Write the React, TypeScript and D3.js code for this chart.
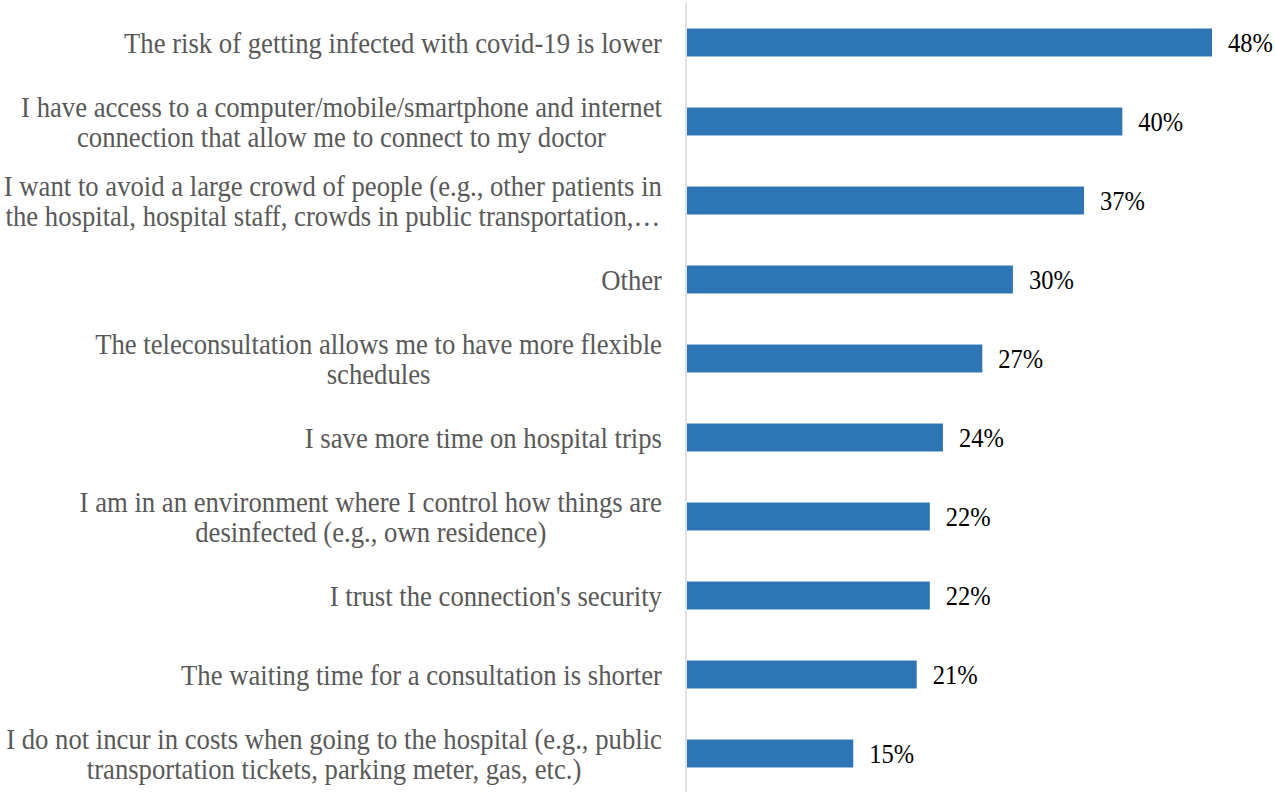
import React, { useEffect, useRef } from "react";
import * as d3 from "d3";

const categories: string[][] = [
  ["The risk of getting infected with covid-19 is lower"],
  ["I have access to a computer/mobile/smartphone and internet", "connection that allow me to connect to my doctor"],
  ["I want to avoid a large crowd of people (e.g., other patients in", "the hospital, hospital staff, crowds in public transportation,…"],
  ["Other"],
  ["The teleconsultation allows me to have more flexible", "schedules"],
  ["I save more time on hospital trips"],
  ["I am in an environment where I control how things are", "desinfected (e.g., own residence)"],
  ["I trust the connection's security"],
  ["The waiting time for a consultation is shorter"],
  ["I do not incur in costs when going to the hospital (e.g., public", "transportation tickets, parking meter, gas, etc.)"],
];
// bar lengths (percent)
const values: number[] = [48.0, 39.8, 36.3, 29.8, 27.0, 23.4, 22.2, 22.2, 21.0, 15.2];
const valueLabels: string[] = ["48%", "40%", "37%", "30%", "27%", "24%", "22%", "22%", "21%", "15%"];

const W = 1275;
const H = 792;
const FONT = "'Liberation Serif', 'Times New Roman', serif";
const VSCALE = 1.08;

export default function App() {
  const ref = useRef<SVGSVGElement | null>(null);

  useEffect(() => {
    const svg = d3.select(ref.current);
    svg.selectAll("*").remove();

    const x = d3.scaleLinear().domain([0, 48]).range([687, 1212]);
    const y = d3
      .scaleBand<number>()
      .domain(d3.range(categories.length))
      .range([3, 793])
      .paddingInner(0.646)
      .paddingOuter(0.323);

    svg
      .append("line")
      .attr("x1", 686)
      .attr("x2", 686)
      .attr("y1", 3)
      .attr("y2", H)
      .attr("stroke", "#d9d9d9")
      .attr("stroke-width", 1.5);

    svg
      .selectAll("rect.bar")
      .data(values)
      .join("rect")
      .attr("class", "bar")
      .attr("x", x(0))
      .attr("y", (_d, i) => y(i)!)
      .attr("width", (d) => x(d) - x(0))
      .attr("height", y.bandwidth())
      .attr("fill", "#2e75b6");

    svg
      .selectAll("text.val")
      .data(values)
      .join("text")
      .attr("class", "val")
      .attr(
        "transform",
        (d, i) => `translate(${x(d) + 16},${y(i)! + y.bandwidth() / 2}) scale(1,${VSCALE})`
      )
      .attr("dy", "0.35em")
      .attr("font-family", FONT)
      .attr("font-size", 24.5)
      .attr("fill", "#000")
      .text((_d, i) => valueLabels[i]);

    const lineH = 30;
    const right = 662;
    categories.forEach((lines, i) => {
      const cy = y(i)! + y.bandwidth() / 2;
      const g = svg.append("g");
      const texts = lines.map((ln) =>
        g
          .append("text")
          .attr("font-family", FONT)
          .attr("font-size", 26.7)
          .attr("fill", "#595959")
          .attr("text-anchor", "middle")
          .attr("dy", "0.35em")
          .text(ln)
      );
      const widths = texts.map((t) => (t.node() as SVGTextElement).getComputedTextLength());
      const maxW = Math.max(...widths);
      const cx = right - maxW / 2;
      texts.forEach((t, k) => {
        const ty = cy + (k - (lines.length - 1) / 2) * lineH;
        t.attr("transform", `translate(${cx},${ty}) scale(1,${VSCALE})`);
      });
    });
  }, []);

  return (
    <svg
      ref={ref}
      width={W}
      height={H}
      style={{ position: "absolute", left: 0, top: 0, background: "#fff" }}
    />
  );
}
